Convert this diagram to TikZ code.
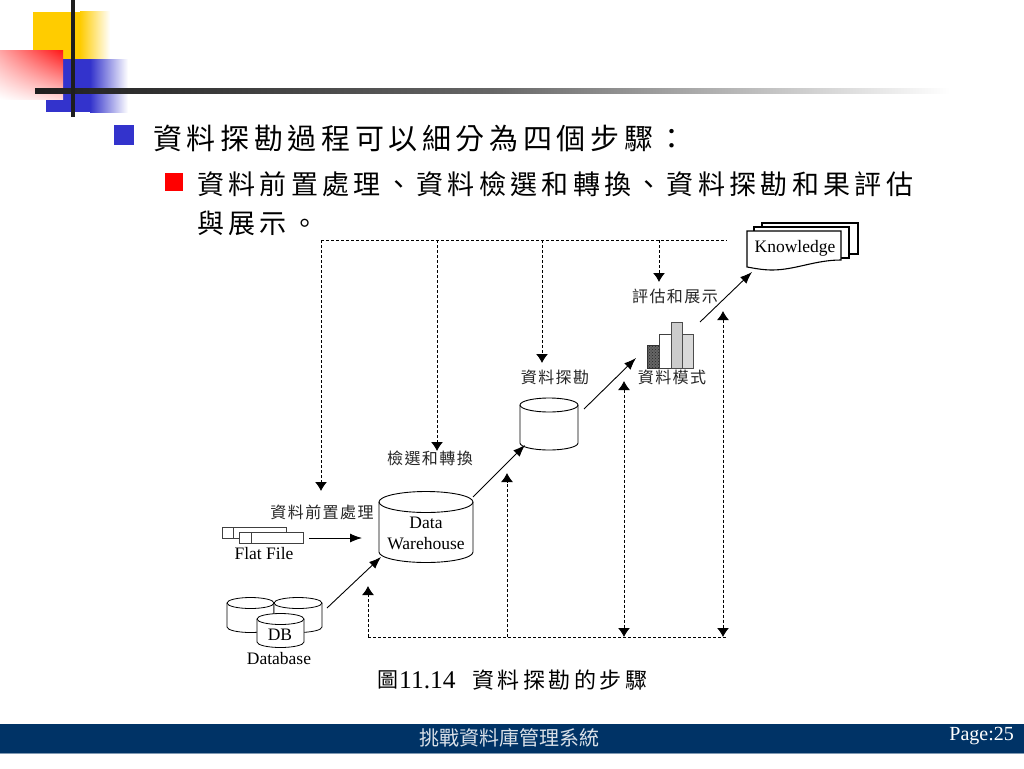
\documentclass[tikz,border=0pt]{standalone}
\usepackage{fontspec}
\setmainfont{Liberation Serif}
\newfontfamily\cjk{Noto Sans CJK TC}
\newfontfamily\cjkw[LetterSpace=16]{Noto Sans CJK TC}
\newfontfamily\cjkv[LetterSpace=16]{Noto Sans CJK TC}
\newfontfamily\cjkl[LetterSpace=9]{Noto Sans CJK TC}
\newfontfamily\cjkc[LetterSpace=16]{Noto Sans CJK TC}
\usetikzlibrary{arrows.meta,patterns,shadings}
\definecolor{navy}{RGB}{0,51,102}
\definecolor{blu}{RGB}{51,51,204}
\definecolor{yel}{RGB}{255,204,0}
\definecolor{barc}{RGB}{30,30,30}
\tikzset{
  x=1pt,y=-1pt,
  flow/.style={-{Latex[length=12pt,width=9pt]},line width=0.9pt,black},
  fb/.style={-{Latex[length=9pt,width=12pt]},line width=0.9pt,densely dashed,black},
  fbb/.style={{Latex[length=9pt,width=12pt]}-{Latex[length=9pt,width=12pt]},line width=0.9pt,densely dashed,black},
  dl/.style={line width=0.8pt,densely dashed,black},
  lab/.style={inner sep=0pt,font=\cjkl\fontsize{16}{18}\selectfont,text=black!85},
  en/.style={inner sep=0pt,font=\fontsize{17.5}{21}\selectfont,align=center},
  h1/.style={inner sep=0pt,anchor=west,font=\cjkw\fontsize{29}{32}\selectfont},
  h2/.style={inner sep=0pt,anchor=west,font=\cjkv\fontsize{27}{30}\selectfont},
  bar/.style={fill=white,draw=black!75,line width=0.8pt},
}
% centre x, y of the top ellipse centre, half width, ellipse ry, body height, line width
\newcommand{\cylinderat}[6]{%
  \draw[fill=white,line width=#6] (#1-#3,#2) -- (#1-#3,#2+#5)
    arc[start angle=180,end angle=0,x radius=#3,y radius=#4] -- (#1+#3,#2)
    arc[start angle=0,end angle=-180,x radius=#3,y radius=#4];
  \draw[line width=#6] (#1-#3,#2) arc[start angle=180,end angle=0,x radius=#3,y radius=#4];
}
\begin{document}
\begin{tikzpicture}
\useasboundingbox (0,0) rectangle (1024,768);
\fill[white] (0,0) rectangle (1024,768);
% decoration
\fill[yel] (33,12) rectangle (80,59);
\shade[left color=yel,right color=white] (80,12) rectangle (110,59);
\fill[blu] (46,59) rectangle (90,112);
\shade[left color=blu,right color=white] (90,59) rectangle (128,112);
\shade[upper right=red!90!white,upper left=red!35!white,lower right=red!15!white,lower left=white] (0,51) rectangle (63,99);
\shade[left color=barc,right color=white,middle color=black!60] (35,88) rectangle (950,93);
\draw[line width=4pt,color=barc] (73,0) -- (73,117);
% header text
\fill[blu] (114,125) rectangle (134,145);
\node[h1] (t1) at (153,139) {資料探勘過程可以細分為四個步驟：};
\fill[red] (165,173) rectangle (183,191);
\node[h2] (t2) at (197,184) {資料前置處理、資料檢選和轉換、資料探勘和果評估};
\node[h2] (t3) at (197,223) {與展示。};
% feedback coordinates
\coordinate (tl) at (321,240);
\coordinate (t2c) at (437,240);
\coordinate (t3c) at (542,240);
\coordinate (t4c) at (659,240);
\coordinate (tr) at (727,240);
\coordinate (a1) at (321,491);
\coordinate (a2) at (437,451);
\coordinate (a3) at (542,363);
\coordinate (a4) at (659,282);
\coordinate (bl) at (368,637);
\coordinate (b2) at (507,637);
\coordinate (b3) at (624,637);
\coordinate (b4) at (723,637);
\coordinate (br) at (727,637);
\coordinate (u1) at (368,586);
\coordinate (u2) at (507,473);
\coordinate (u3) at (624,381);
\coordinate (u4) at (723,311);
\draw[dl] (tl) -- (tr);
\draw[fb] (tl) -- (a1);
\draw[fb] (t2c) -- (a2);
\draw[fb] (t3c) -- (a3);
\draw[fb] (t4c) -- (a4);
\draw[dl] (bl) -- (br);
\draw[fb] (bl) -- (u1);
\draw[fb] (b2) -- (u2);
\draw[fbb] (u3) -- (b3);
\draw[fbb] (u4) -- (b4);
% labels
\node[lab] (l1) at (322,512) {資料前置處理};
\node[lab] (l2) at (430,458) {檢選和轉換};
\node[lab] (l3) at (555,377) {資料探勘};
\node[lab] (l4) at (675,296) {評估和展示};
% Flat file
\draw[bar] (222,527) rectangle (286,538);
\draw[bar] (233,527) -- (233,538);
\draw[bar] (239,532) rectangle (303,543);
\draw[bar] (251,532) -- (251,543);
\node[en] (ff) at (264,554) {Flat File};
\coordinate (ffe) at (309,538);
\coordinate (dwi) at (362,538);
\draw[flow] (ffe) -- (dwi);
% Data warehouse
\cylinderat{426}{502}{47}{10.5}{50}{0.9pt}
\node[en] (dw) at (426,533) {Data\\Warehouse};
% Database
\cylinderat{250.5}{603}{23.5}{5.5}{24}{0.8pt}
\cylinderat{298}{603}{24}{5.5}{24}{0.8pt}
\cylinderat{280.5}{619}{23.5}{5.5}{23}{0.8pt}
\node[en] (db) at (280,634.5) {DB};
\node[en] (dbl) at (279,659) {Database};
\coordinate (dbe) at (327,608);
\coordinate (dwe) at (381,557);
\draw[flow] (dbe) -- (dwe);
% middle cylinder
\cylinderat{549}{405}{29}{7}{38}{0.9pt}
\coordinate (dwo) at (473,497);
\coordinate (mi) at (525,445);
\draw[flow] (dwo) -- (mi);
\coordinate (mo) at (584,409);
\coordinate (ci) at (636,358);
\draw[flow] (mo) -- (ci);
% chart
\fill[black!60] (647,345) rectangle (659,368);
\fill[pattern=crosshatch dots,pattern color=black!85] (647,345) rectangle (659,368);
\draw[line width=0.9pt,draw=black!80] (647,345) rectangle (659,368);
\draw[bar] (659,334) rectangle (671,368);
\draw[line width=0.9pt,draw=black!70,fill=black!20] (671,322) rectangle (682,368);
\draw[line width=0.9pt,draw=black!70,fill=black!15] (682,334) rectangle (693,368);
\node[lab] (l5) at (672,377) {資料模式};
\coordinate (co) at (700,322);
\coordinate (ki) at (752,272);
\draw[flow] (co) -- (ki);
% Knowledge
\draw[fill=white,line width=1.1pt] (762,223) rectangle (858,254);
\draw[fill=white,line width=1.1pt] (754,227) rectangle (849,258);
\draw[fill=white,line width=1.1pt] (747,231) -- (841,231) -- (841,260) .. controls (815,260) and (795,270) .. (772,270) .. controls (762,270) and (753,268) .. (747,267) -- cycle;
\node[en] (kn) at (795,248) {Knowledge};
% caption
\node[inner sep=0pt,anchor=west,font=\cjk\fontsize{21}{24}\selectfont] (cap0) at (377,680) {圖};
\node[inner sep=0pt,anchor=west,font=\fontsize{25.5}{28}\selectfont] (cap) at (399,680) {11.14};
\node[inner sep=0pt,anchor=west,font=\cjkc\fontsize{22}{24}\selectfont] (cap2) at (472,680) {資料探勘的步驟};
% footer
\fill[navy] (0,724) rectangle (1024,753);
\fill[navy!50!white] (0,753) rectangle (1024,754);
\node[inner sep=0pt,font=\cjk\fontsize{20}{22}\selectfont,text=white!85!navy] (ft) at (509.5,738) {挑戰資料庫管理系統};
\node[inner sep=0pt,anchor=east,font=\fontsize{20}{22}\selectfont,text=white] (pg) at (1014,736) {Page:25};
\end{tikzpicture}
\end{document}
